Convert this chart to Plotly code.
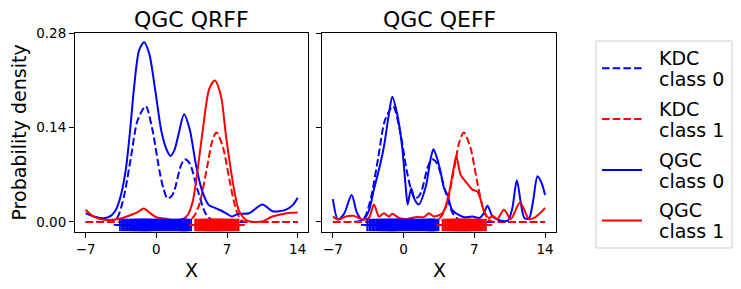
import plotly.graph_objects as go

# ---------------- data ----------------
xticks = [-7, 0, 7, 14]
yticks = [0.0, 0.14, 0.28]
ytick_labels = ["0.00", "0.14", "0.28"]
titles = ["QGC QRFF", "QGC QEFF"]
legend_names = [["KDC", "class 0"], ["KDC", "class 1"], ["QGC", "class 0"], ["QGC", "class 1"]]

# KDC (same in both panels)
kdc0_x = [-7, -5, -4.2, -3.8, -3.2, -2.5, -1.85, -1.05, -0.4, 0.3, 0.7, 1.1, 1.5, 1.8, 2.4, 2.8, 3.3, 4.1, 4.9, 5.6, 6.5, 8, 10, 12, 14]
kdc0_y = [0, 0, 0.002, 0.008, 0.038, 0.097, 0.151, 0.172, 0.138, 0.077, 0.050, 0.035, 0.038, 0.047, 0.082, 0.093, 0.087, 0.047, 0.012, 0.002, 0, 0, 0, 0, 0]
kdc1_x = [-7, 0, 2.5, 3.3, 3.8, 4.3, 5.1, 5.5, 5.95, 6.6, 7.25, 7.9, 8.4, 9.0, 10, 14]
kdc1_y = [0, 0, 0, 0.002, 0.010, 0.028, 0.087, 0.118, 0.133, 0.111, 0.062, 0.018, 0.003, 0, 0, 0]

# QGC QRFF (left panel)
qrff0_x = [-7, -6.2, -5.2, -4.5, -4.0, -3.5, -3.0, -2.6, -2.2, -1.7, -1.2, -0.7, -0.1, 0.5, 1.0, 1.4, 1.8, 2.2, 2.75, 3.3, 3.9, 4.5, 5.2, 5.8, 6.4, 7.0, 7.5, 8.1, 9.2, 10.5, 11.5, 12.8, 13.5, 14]
qrff0_y = [0.013, 0.008, 0.0055, 0.009, 0.018, 0.040, 0.080, 0.135, 0.200, 0.255, 0.267, 0.250, 0.195, 0.135, 0.108, 0.098, 0.107, 0.130, 0.160, 0.138, 0.087, 0.048, 0.025, 0.021, 0.017, 0.012, 0.008, 0.012, 0.013, 0.026, 0.016, 0.018, 0.025, 0.036]
qrff1_x = [-7, -6.2, -5.0, -3.5, -2.4, -1.8, -1.25, -0.6, 0, 0.8, 1.8, 2.6, 3.1, 3.6, 4.0, 4.6, 5.25, 5.8, 6.4, 6.9, 7.6, 8.2, 9.0, 10.4, 11.5, 12.9, 14]
qrff1_y = [0.018, 0.008, 0.003, 0.005, 0.011, 0.015, 0.020, 0.013, 0.007, 0.005, 0.002, 0.004, 0.010, 0.030, 0.067, 0.136, 0.198, 0.210, 0.187, 0.128, 0.057, 0.016, 0.002, 0.0005, 0.008, 0.013, 0.014]

# QGC QEFF (right panel)
qeff0_x = [-7, -6.5, -5.9, -5.15, -4.6, -4.05, -3.45, -2.95, -2.45, -1.95, -1.45, -1.12, -0.65, -0.15, 0.2, 0.4, 0.75, 1.1, 1.5, 2.2, 2.65, 2.95, 3.3, 3.65, 4.0, 4.35, 4.8, 5.5, 6.0, 6.8, 7.5, 7.9, 8.3, 8.8, 9.4, 10.3, 10.75, 11.2, 11.6, 11.95, 12.4, 12.8, 13.25, 13.65, 14]
qeff0_y = [0.034, 0.004, 0.012, 0.040, 0.013, 0.003, 0.016, 0.048, 0.077, 0.112, 0.161, 0.186, 0.161, 0.112, 0.053, 0.026, 0.050, 0.033, 0.026, 0.053, 0.092, 0.108, 0.095, 0.075, 0.050, 0.040, 0.018, 0.010, 0.007, 0.008, 0.006, 0.012, 0.024, 0.008, 0.003, 0.002, 0.020, 0.062, 0.028, 0.006, 0.005, 0.030, 0.068, 0.058, 0.040]
qeff1_x = [-7, -6.4, -5.74, -4.92, -4.09, -3.43, -2.94, -2.44, -1.95, -1.45, -1.12, -0.46, 0.36, 1.35, 2.0, 2.5, 3.0, 3.5, 3.85, 4.2, 4.5, 4.98, 5.21, 5.64, 6.14, 6.8, 7.3, 7.62, 7.95, 8.45, 8.84, 9.27, 9.93, 10.6, 11.52, 12.41, 12.9, 13.5, 14]
qeff1_y = [0.008, 0.0035, 0.008, 0.009, 0.0035, 0.006, 0.026, 0.008, 0.013, 0.008, 0.012, 0.006, 0.0045, 0.0075, 0.007, 0.013, 0.008, 0.010, 0.013, 0.025, 0.043, 0.082, 0.098, 0.070, 0.060, 0.048, 0.045, 0.033, 0.016, 0.006, 0.009, 0.0044, 0.018, 0.0044, 0.029, 0.0044, 0.006, 0.013, 0.021]

# training samples shown as '+' markers along the bottom
samples0 = [-3.6, -3.4, -3.25, -3.1, -2.95, -2.85, -2.7, -2.6, -2.5, -2.4, -2.3, -2.2, -2.15,
            -2.1, -2.0, -1.95, -1.9, -1.8, -1.75, -1.7, -1.6, -1.55, -1.5, -1.45, -1.4, -1.35, -1.3, -1.25,
            -1.2, -1.15, -1.1, -1.05, -1.0, -0.95, -0.9, -0.85, -0.8, -0.75, -0.7, -0.6, -0.55, -0.5, -0.4,
            -0.3, -0.2, -0.1, 0.0, 0.1, 0.2, 0.3, 0.4, 0.5, 0.6, 0.7, 0.8, 0.9, 1.0, 1.1, 1.2, 1.3, 1.4, 1.5,
            1.6, 1.7, 1.8, 1.9, 2.0, 2.1, 2.2, 2.3, 2.35, 2.4, 2.5, 2.55, 2.6, 2.65, 2.7, 2.75, 2.8, 2.85,
            2.9, 2.95, 3.0, 3.05, 3.15, 3.3, 3.45]
samples1 = [3.85, 4.0, 4.15, 4.3, 4.4, 4.5, 4.6, 4.7, 4.8, 4.85, 4.9, 5.0, 5.05, 5.1, 5.15, 5.2, 5.25,
            5.3, 5.35, 5.4, 5.45, 5.5, 5.55, 5.6, 5.65, 5.7, 5.75, 5.8, 5.85, 5.9, 5.95, 6.0, 6.05, 6.1,
            6.15, 6.2, 6.25, 6.3, 6.35, 6.4, 6.45, 6.5, 6.6, 6.65, 6.7, 6.8, 6.9, 7.0, 7.1, 7.2, 7.3, 7.4,
            7.5, 7.6, 7.7, 7.85, 8.0, 8.15]
sample_level = -0.0045

# ---------------- figure ----------------
W, H = 741, 289
FONT = "DejaVu Sans"
BLUE, RED = "#0000ff", "#ff0000"
DASH = "7.5px,3.2px"

def px_x(p):
    return p / W

def px_y(p):
    return 1 - p / H

fig = go.Figure()

styles = [(BLUE, DASH), (RED, DASH), (BLUE, "solid"), (RED, "solid")]
panels = [
    ("x", "y", qrff0_x, qrff0_y, qrff1_x, qrff1_y),
    ("x2", "y2", qeff0_x, qeff0_y, qeff1_x, qeff1_y),
]
for xa, ya, q0x, q0y, q1x, q1y in panels:
    series = [(kdc0_x, kdc0_y), (kdc1_x, kdc1_y), (q0x, q0y), (q1x, q1y)]
    for (sx, sy), (col, dash), nm in zip(series, styles, legend_names):
        fig.add_trace(go.Scatter(x=sx, y=sy, xaxis=xa, yaxis=ya, mode="lines", line_shape="spline",
                                 name=" ".join(nm), showlegend=False,
                                 line=dict(color=col, width=2, dash=dash, smoothing=0.8)))
    for smp, col in [(samples0, BLUE), (samples1, RED)]:
        fig.add_trace(go.Scatter(x=smp, y=[sample_level] * len(smp), xaxis=xa, yaxis=ya, mode="markers",
                                 showlegend=False,
                                 marker=dict(symbol="cross-thin", size=9, line=dict(color=col, width=1.8))))

xdom1 = [px_x(75), px_x(308.3)]
xdom2 = [px_x(322.3), px_x(555.7)]
ydom = [px_y(231.7), px_y(33.3)]

axis_common = dict(showline=True, mirror=True, linecolor="black", linewidth=1, ticks="outside",
                   ticklen=5, tickwidth=1, tickcolor="black", showgrid=False, zeroline=False,
                   tickfont=dict(family=FONT, size=13.5, color="black"))
xr = [-8.05, 15.05]
yr = [-0.0145, 0.2802]

fig.update_layout(
    width=W, height=H, margin=dict(l=0, r=0, t=0, b=0, autoexpand=False),
    paper_bgcolor="white", plot_bgcolor="white",
    font=dict(family=FONT, color="black"),
    xaxis=dict(domain=xdom1, range=xr, tickvals=xticks, anchor="y", **axis_common),
    xaxis2=dict(domain=xdom2, range=xr, tickvals=xticks, anchor="y2", **axis_common),
    yaxis=dict(domain=ydom, range=yr, tickvals=yticks, ticktext=ytick_labels, anchor="x", **axis_common),
    yaxis2=dict(domain=ydom, range=yr, tickvals=yticks, showticklabels=False, anchor="x2", matches="y", **axis_common),
    showlegend=False,
)

ann = []
for t, cx in zip(titles, [(75 + 308.3) / 2, (322.3 + 555.7) / 2]):
    ann.append(dict(text=t, x=px_x(cx), y=px_y(19), xref="paper", yref="paper", showarrow=False,
                    xanchor="center", yanchor="middle", font=dict(family=FONT, size=22, color="black")))
    ann.append(dict(text="X", x=px_x(cx), y=px_y(270), xref="paper", yref="paper", showarrow=False,
                    xanchor="center", yanchor="middle", font=dict(family=FONT, size=19, color="black")))
ann.append(dict(text="Probability density", x=px_x(18), y=px_y(132.5), xref="paper", yref="paper",
                showarrow=False, textangle=-90, xanchor="center", yanchor="middle",
                font=dict(family=FONT, size=19, color="black")))

# legend box drawn with shapes + text
shapes = [dict(type="rect", xref="paper", yref="paper", x0=px_x(596), x1=px_x(732), y0=px_y(248), y1=px_y(41),
               line=dict(color="#cccccc", width=1), fillcolor="white", layer="above")]
entry_y = [68.3, 119.0, 170.0, 220.5]
for ey, (col, dash), (l1, l2) in zip(entry_y, styles, legend_names):
    shapes.append(dict(type="line", xref="paper", yref="paper", x0=px_x(602), x1=px_x(642),
                       y0=px_y(ey), y1=px_y(ey), line=dict(color=col, width=2, dash=dash), layer="above"))
    ann.append(dict(text=l1, x=px_x(657), y=px_y(ey - 10.5), xref="paper", yref="paper", showarrow=False,
                    xanchor="left", yanchor="middle", font=dict(family=FONT, size=19, color="black")))
    ann.append(dict(text=l2, x=px_x(657), y=px_y(ey + 10.5), xref="paper", yref="paper", showarrow=False,
                    xanchor="left", yanchor="middle", font=dict(family=FONT, size=19, color="black")))

fig.update_layout(annotations=ann, shapes=shapes)

fig.write_html("out.html", post_script="document.body.style.margin='0';",
               config={"displayModeBar": False})
